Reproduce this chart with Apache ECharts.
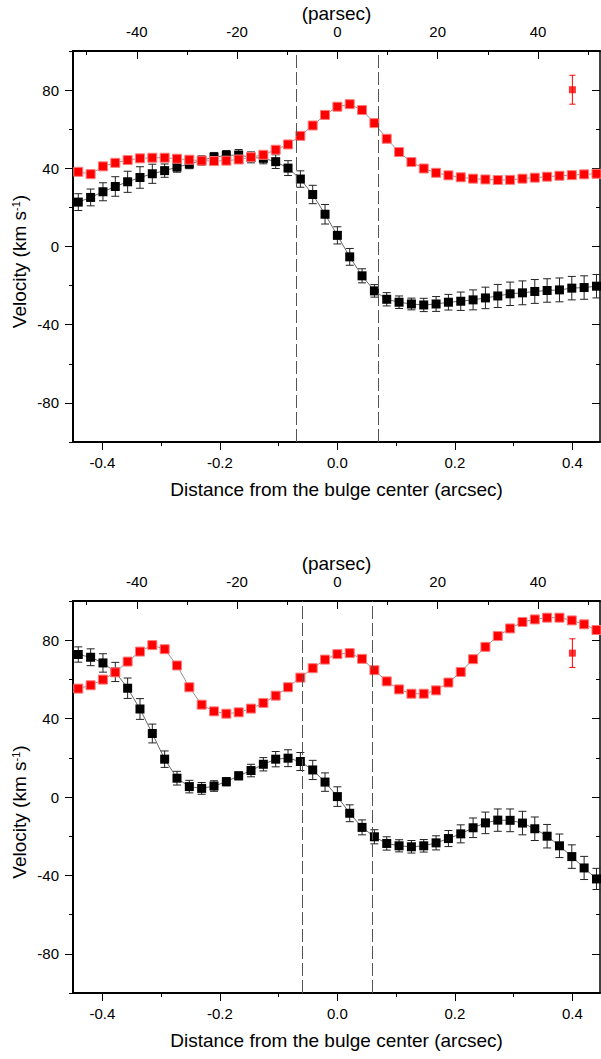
<!DOCTYPE html>
<html>
<head>
<meta charset="utf-8">
<script src="https://cdn.jsdelivr.net/npm/echarts@6/dist/echarts.min.js"></script>
<style>
  html, body { margin: 0; padding: 0; background: #fff; }
  #chart { width: 601px; height: 1059px; }
</style>
</head>
<body>
<div id="chart"></div>
<script>
// slit positions (arcsec from the bulge center)
const offsets = [
  -0.441, -0.420, -0.399, -0.378, -0.357, -0.336, -0.315, -0.294, -0.273, -0.252, -0.231,
  -0.210, -0.189, -0.168, -0.147, -0.126, -0.105, -0.084, -0.063, -0.042, -0.021, 0.000,
  0.021, 0.042, 0.063, 0.084, 0.105, 0.126, 0.147, 0.168, 0.189, 0.210,
  0.231, 0.252, 0.273, 0.294, 0.315, 0.336, 0.357, 0.378, 0.399, 0.420, 0.441
]

// top panel
const redTop = [
  38.2, 37.0, 41.0, 42.8, 44.2, 45.1, 45.4, 45.4, 44.9, 44.4, 43.9,
  43.7, 43.9, 44.5, 45.7, 46.9, 49.5, 52.2, 56.6, 61.9, 67.3, 71.5,
  72.8, 69.8, 63.1, 55.1, 48.3, 43.2, 39.9, 37.7, 36.4, 35.4,
  34.7, 34.3, 34.0, 34.1, 34.7, 35.2, 35.7, 36.2, 36.5, 36.9, 37.2
]
const blackTop = [
  22.7, 25.1, 28.0, 30.7, 33.1, 35.3, 37.2, 38.8, 40.6, 42.2, 44.0,
  45.7, 46.6, 46.8, 45.6, 45.1, 43.4, 40.1, 34.5, 26.6, 16.5, 5.7,
  -5.3, -15.0, -22.7, -27.0, -28.5, -29.4, -29.9, -29.4, -28.5, -28.0,
  -27.3, -26.3, -25.3, -24.2, -23.7, -23.0, -22.5, -22.2, -21.3, -21.0, -20.3
]
const errBlackTop = [
  4.3, 4.3, 4.6, 5.0, 5.4, 5.5, 4.9, 3.4, 2.6, 2.4, 2.4,
  2.4, 2.5, 2.8, 2.8, 2.8, 3.5, 3.8, 4.2, 4.7, 5.0, 4.4,
  4.3, 3.6, 3.2, 3.4, 3.2, 3.0, 3.4, 3.8, 4.0, 4.7,
  5.1, 5.5, 5.9, 6.0, 6.1, 6.1, 6.0, 6.1, 6.0, 6.0, 6.0
]
const refBarTop = [0.4, 80.2, 7.4]   // x, value, error
const dashTop = [-0.070, 0.068]

// bottom panel
const redBottom = [
  55.3, 57.0, 59.9, 63.6, 69.1, 74.2, 77.5, 75.4, 67.1, 56.0, 47.1,
  43.7, 42.5, 43.2, 45.1, 48.0, 51.7, 56.0, 60.9, 65.7, 70.1, 72.9,
  73.4, 70.5, 64.7, 59.0, 54.9, 52.7, 52.7, 54.4, 58.4, 63.8,
  70.3, 76.6, 82.1, 86.0, 89.3, 90.6, 91.5, 91.5, 90.1, 88.1, 85.2
]
const blackBottom = [
  72.7, 71.3, 68.4, 63.8, 55.5, 44.9, 32.4, 19.3, 9.6, 5.3, 4.4,
  5.6, 7.8, 10.8, 13.5, 16.7, 19.3, 19.8, 18.1, 13.8, 7.6, 0.2,
  -8.3, -15.5, -20.3, -23.7, -24.9, -25.4, -24.9, -23.4, -21.2, -18.8,
  -15.7, -13.2, -11.8, -11.9, -13.3, -16.2, -20.0, -24.9, -30.4, -36.2, -41.8
]
const errBlackBottom = [
  3.9, 4.3, 4.7, 4.9, 5.2, 5.3, 4.8, 4.2, 3.5, 3.2, 3.0,
  2.7, 2.1, 2.0, 3.2, 3.4, 3.9, 4.3, 4.6, 4.9, 4.7, 5.0,
  4.3, 3.8, 3.6, 3.4, 3.1, 3.2, 3.2, 3.6, 4.1, 4.6,
  5.0, 5.5, 5.7, 5.8, 6.0, 6.0, 6.0, 6.0, 6.0, 5.9, 5.4
]
const refBarBottom = [0.4, 73.4, 7.3]
const dashBottom = [-0.063, 0.061]

// ticks
const arcsecMajor = [-0.4, -0.2, 0, 0.2, 0.4]
const arcsecMinor = [-0.3, -0.1, 0.1, 0.3]
const parsecMajor = [-40, -20, 0, 20, 40]
const parsecMinor = [-50, -30, -10, 10, 30, 50]
const velMajor = [-80, -40, 0, 40, 80]
const velMinor = [-100, -60, -20, 20, 60, 100]

const X_MIN = -0.45
const X_MAX = 0.447
const PC_PER_ARCSEC = 117.15
const FONT = 'Liberation Sans, Arial, sans-serif'

const grids = [
  { left: 73, top: 51, width: 527, height: 391 },
  { left: 73, top: 601, width: 527, height: 392 },
]

function xAxesFor(g) {
  const base = { gridIndex: g, type: 'value', splitLine: { show: false }, nameMoveOverlap: false }
  const label = { color: '#000', fontSize: 15, fontFamily: FONT }
  return [
    {
      ...base, position: 'bottom', min: X_MIN, max: X_MAX,
      axisLine: { onZero: false, lineStyle: { color: '#000', width: 2 } },
      axisTick: { customValues: arcsecMajor, length: 8, lineStyle: { color: '#000' } },
      axisLabel: { ...label, customValues: arcsecMajor, margin: 13, formatter: v => v.toFixed(1) },
      name: 'Distance from the bulge center (arcsec)',
      nameLocation: 'middle', nameGap: 38,
      nameTextStyle: { color: '#000', fontSize: 19, fontFamily: FONT },
    },
    {
      ...base, position: 'bottom', min: X_MIN, max: X_MAX,
      axisLine: { show: false, onZero: false },
      axisTick: { customValues: arcsecMinor, length: 4, lineStyle: { color: '#000' } },
      axisLabel: { show: false },
    },
    {
      ...base, position: 'top', min: X_MIN * PC_PER_ARCSEC, max: X_MAX * PC_PER_ARCSEC,
      axisLine: { onZero: false, lineStyle: { color: '#000', width: 2 } },
      axisTick: { customValues: parsecMajor, inside: true, length: 8, lineStyle: { color: '#000' } },
      axisLabel: { ...label, customValues: parsecMajor, margin: 12, formatter: v => String(v) },
      name: '(parsec)',
      nameLocation: 'middle', nameGap: 28,
      nameTextStyle: { color: '#000', fontSize: 19, fontFamily: FONT },
    },
    {
      ...base, position: 'top', min: X_MIN * PC_PER_ARCSEC, max: X_MAX * PC_PER_ARCSEC,
      axisLine: { show: false, onZero: false },
      axisTick: { customValues: parsecMinor, inside: true, length: 4, lineStyle: { color: '#000' } },
      axisLabel: { show: false },
    },
  ]
}

function yAxesFor(g) {
  const base = { gridIndex: g, type: 'value', min: -100, max: 100, splitLine: { show: false }, nameMoveOverlap: false }
  return [
    {
      ...base, position: 'left',
      axisLine: { onZero: false, lineStyle: { color: '#000', width: 2 } },
      axisTick: { customValues: velMajor, length: 8, lineStyle: { color: '#000' } },
      axisLabel: { customValues: velMajor, color: '#000', fontSize: 15, fontFamily: FONT, margin: 14 },
      name: '{t|Velocity (km s}{s|-1}{t|)}',
      nameLocation: 'middle', nameGap: 44,
      nameTextStyle: {
        padding: [0, 30, 0, 0],
        rich: {
          t: { fontSize: 19, fontFamily: FONT, color: '#000' },
          s: { fontSize: 11, fontFamily: FONT, color: '#000', verticalAlign: 'top' },
        },
      },
    },
    {
      ...base, position: 'left',
      axisLine: { show: false, onZero: false },
      axisTick: { customValues: velMinor, length: 4, lineStyle: { color: '#000' } },
      axisLabel: { show: false },
    },
    {
      ...base, position: 'right',
      axisLine: { onZero: false, lineStyle: { color: '#000', width: 1.5 } },
      axisTick: { customValues: velMajor, inside: true, length: 8, lineStyle: { color: '#000' } },
      axisLabel: { show: false },
    },
    {
      ...base, position: 'right',
      axisLine: { show: false, onZero: false },
      axisTick: { customValues: velMinor, inside: true, length: 4, lineStyle: { color: '#000' } },
      axisLabel: { show: false },
    },
  ]
}

function errorBars(g, rows, color, cap) {
  return {
    type: 'custom',
    xAxisIndex: g * 4, yAxisIndex: g * 4,
    silent: true, z: 1,
    encode: { x: 0, y: [1, 2] },
    data: rows,
    renderItem: (params, api) => {
      const x = api.value(0)
      const lo = api.coord([x, api.value(1)])
      const hi = api.coord([x, api.value(2)])
      const style = { stroke: color, lineWidth: 1 }
      return {
        type: 'group',
        children: [
          { type: 'line', shape: { x1: lo[0], y1: lo[1], x2: hi[0], y2: hi[1] }, style },
          { type: 'line', shape: { x1: lo[0] - cap, y1: lo[1], x2: lo[0] + cap, y2: lo[1] }, style },
          { type: 'line', shape: { x1: hi[0] - cap, y1: hi[1], x2: hi[0] + cap, y2: hi[1] }, style },
        ],
      }
    },
  }
}

function panelSeries(g, red, black, err, refBar, dashes) {
  const blackRows = offsets.map((x, i) => [x, black[i] - err[i], black[i] + err[i]])
  return [
    errorBars(g, blackRows, '#222', 4),
    {
      type: 'line', xAxisIndex: g * 4, yAxisIndex: g * 4, z: 2, silent: true,
      data: offsets.map((x, i) => [x, black[i]]),
      symbol: 'rect', symbolSize: 9, showSymbol: true, showAllSymbol: true,
      itemStyle: { color: '#000' },
      lineStyle: { color: '#444', width: 0.8 },
      markLine: {
        silent: true, symbol: ['none', 'none'], label: { show: false },
        lineStyle: { type: [13, 4], color: '#555', width: 1 },
        data: dashes.map(x => ({ xAxis: x })),
      },
    },
    {
      type: 'line', xAxisIndex: g * 4, yAxisIndex: g * 4, z: 3, silent: true,
      data: offsets.map((x, i) => [x, red[i]]),
      symbol: 'rect', symbolSize: 9, showSymbol: true, showAllSymbol: true,
      itemStyle: { color: '#ff0000', borderColor: '#ff7a7a', borderWidth: 1 },
      lineStyle: { color: '#777', width: 0.8 },
    },
    errorBars(g, [[refBar[0], refBar[1] - refBar[2], refBar[1] + refBar[2]]], '#ff0000', 3),
    {
      type: 'scatter', xAxisIndex: g * 4, yAxisIndex: g * 4, z: 4, silent: true,
      data: [[refBar[0], refBar[1]]],
      symbol: 'rect', symbolSize: 7,
      itemStyle: { color: '#ff0000' },
    },
  ]
}

const chart = echarts.init(document.getElementById('chart'), null, { renderer: 'svg' })

chart.setOption({
  animation: false,
  backgroundColor: '#fff',
  grid: grids.map(g => ({ ...g, outerBoundsMode: 'none', containLabel: false })),
  xAxis: [...xAxesFor(0), ...xAxesFor(1)],
  yAxis: [...yAxesFor(0), ...yAxesFor(1)],
  series: [
    ...panelSeries(0, redTop, blackTop, errBlackTop, refBarTop, dashTop),
    ...panelSeries(1, redBottom, blackBottom, errBlackBottom, refBarBottom, dashBottom),
  ],
})
</script>
</body>
</html>
